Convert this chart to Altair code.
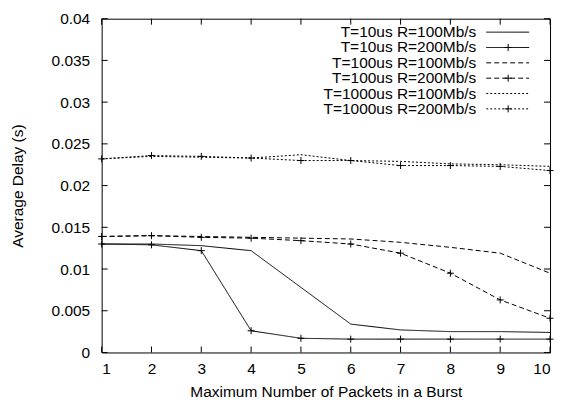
import altair as alt
import pandas as pd

bursts = [1, 2, 3, 4, 5, 6, 7, 8, 9, 10]
series_names = [
    "T=10us R=100Mb/s",
    "T=10us R=200Mb/s",
    "T=100us R=100Mb/s",
    "T=100us R=200Mb/s",
    "T=1000us R=100Mb/s",
    "T=1000us R=200Mb/s",
]
t10_r100 = [0.0130, 0.0130, 0.0128, 0.0122, 0.0078, 0.0034, 0.0027, 0.0025, 0.0025, 0.0024]
t10_r200 = [0.0130, 0.0129, 0.0122, 0.0026, 0.0017, 0.0016, 0.0016, 0.0016, 0.0016, 0.0016]
t100_r100 = [0.0139, 0.0140, 0.0139, 0.0138, 0.0137, 0.0136, 0.0132, 0.0126, 0.0119, 0.0095]
t100_r200 = [0.0139, 0.0140, 0.0138, 0.0137, 0.0134, 0.0130, 0.0119, 0.0095, 0.0063, 0.0041]
t1000_r100 = [0.0232, 0.0235, 0.0234, 0.0233, 0.0237, 0.0230, 0.0229, 0.0226, 0.0225, 0.0223]
t1000_r200 = [0.0232, 0.0236, 0.0235, 0.0233, 0.0230, 0.0230, 0.0224, 0.0224, 0.0223, 0.0218]
marked = [False, True, False, True, False, True]
x_ticks = [1, 2, 3, 4, 5, 6, 7, 8, 9, 10]
y_ticks = [0, 0.005, 0.01, 0.015, 0.02, 0.025, 0.03, 0.035, 0.04]

values = [t10_r100, t10_r200, t100_r100, t100_r200, t1000_r100, t1000_r200]
rows = []
for name, vals, mk in zip(series_names, values, marked):
    for b, v in zip(bursts, vals):
        rows.append({"series": name, "burst": b, "delay": v, "marked": mk})
df = pd.DataFrame(rows)
leg = pd.DataFrame({"series": series_names, "marked": marked})
xt = pd.DataFrame({"v": x_ticks})
yt = pd.DataFrame({"v": y_ticks})

W, H = 450, 335
FONT = "Liberation Sans"
FS = 15.5

dash_scale = alt.Scale(domain=series_names,
                       range=[[1, 0], [1, 0], [5, 3], [5, 3], [2, 2], [2, 2]])
xs = alt.Scale(domain=[1, 10], nice=False)
ys = alt.Scale(domain=[0, 0.04], nice=False)
plus = "M-1,0H1M0,-1V1"

lines = alt.Chart(df).mark_line(color="black", strokeWidth=1, clip=True).encode(
    x=alt.X("burst:Q", scale=xs,
            axis=alt.Axis(title="Maximum Number of Packets in a Burst", values=x_ticks,
                          ticks=False, domain=False, grid=False, labelPadding=9,
                          titlePadding=8)),
    y=alt.Y("delay:Q", scale=ys,
            axis=alt.Axis(title="Average Delay (s)", values=y_ticks, format="~g",
                          ticks=False, domain=False, grid=False, labelPadding=12,
                          titlePadding=26)),
    strokeDash=alt.StrokeDash("series:N", scale=dash_scale, legend=None),
    detail="series:N",
)
points = alt.Chart(df).transform_filter("datum.marked").mark_point(
    shape=plus, size=49, color="black", strokeWidth=1, filled=False, opacity=1
).encode(x=alt.X("burst:Q", scale=xs), y=alt.Y("delay:Q", scale=ys))

tick_b = alt.Chart(xt).mark_rule(color="black").encode(
    x=alt.X("v:Q", scale=xs), y=alt.value(H), y2=alt.value(H - 6))
tick_t = alt.Chart(xt).mark_rule(color="black").encode(
    x=alt.X("v:Q", scale=xs), y=alt.value(0), y2=alt.value(6))
tick_l = alt.Chart(yt).mark_rule(color="black").encode(
    y=alt.Y("v:Q", scale=ys), x=alt.value(0), x2=alt.value(6))
tick_r = alt.Chart(yt).mark_rule(color="black").encode(
    y=alt.Y("v:Q", scale=ys), x=alt.value(W), x2=alt.value(W - 6))

leg_base = alt.Chart(leg).transform_window(row="row_number()").transform_calculate(
    ly="13.5 + (datum.row - 1) * 15.4")
leg_text = leg_base.mark_text(align="right", baseline="middle", font=FONT,
                              fontSize=FS, color="black").encode(
    text="series:N", x=alt.value(376), y=alt.Y("ly:Q", scale=None, axis=None))
leg_rule = leg_base.mark_rule(color="black", strokeWidth=1).encode(
    x=alt.value(386), x2=alt.value(429), y=alt.Y("ly:Q", scale=None, axis=None),
    strokeDash=alt.StrokeDash("series:N", scale=dash_scale, legend=None))
leg_pt = leg_base.transform_filter("datum.marked").mark_point(
    shape=plus, size=49, color="black", strokeWidth=1, filled=False, opacity=1
).encode(x=alt.value(408), y=alt.Y("ly:Q", scale=None, axis=None))

chart = alt.layer(lines, points, tick_b, tick_t, tick_l, tick_r,
                  leg_text, leg_rule, leg_pt).properties(
    width=W, height=H,
    autosize=alt.AutoSizeParams(type="none"),
    padding={"left": 94, "top": 10, "right": 5, "bottom": 55},
    background="white",
).configure_view(stroke="black", strokeWidth=1).configure_axis(
    labelFont=FONT, titleFont=FONT, labelFontSize=FS, titleFontSize=FS,
    labelColor="black", titleColor="black", titleFontWeight="normal"
)

chart.save("out.html", embed_options={"renderer": "svg", "actions": False})
